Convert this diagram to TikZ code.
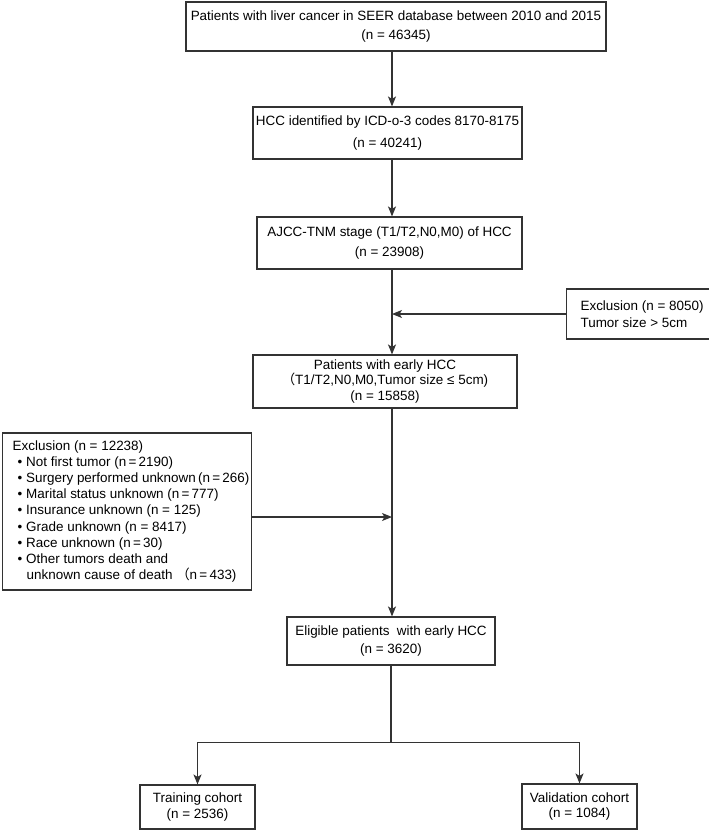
\documentclass[tikz,border=0pt]{standalone}
\usepackage{fontspec}
\setmainfont{Liberation Sans}
\newfontfamily\cjk{Noto Sans CJK SC}
\usetikzlibrary{arrows.meta}

\tikzset{
  box/.style={draw=black!80, line width=1.1bp, align=center, inner sep=2bp,
    font=\fontsize{13.5}{20}\selectfont},
  exbox/.style={box, align=left, anchor=west},
  arr/.style={draw=black!80, line width=1.1bp, -{Stealth[length=10bp,width=8bp,inset=2.5bp]}},
}

\begin{document}
\begin{tikzpicture}[x=1bp,y=-1bp]
        \useasboundingbox (0,0) rectangle (709,830);
        \coordinate (ax) at (392,0);
        % main steps
        \node[box, minimum width=420bp, minimum height=49bp] (seer) at (396,26.5)
          {Patients with liver cancer in SEER database between 2010 and 2015\\(n = 46345)};
        \node[box, minimum width=269bp, minimum height=52bp, font=\fontsize{13.5}{22}\selectfont] (icd) at (387.5,133)
          {HCC identified by ICD-o-3 codes 8170-8175\\(n = 40241)};
        \node[box, minimum width=265bp, minimum height=52bp] (tnm) at (389.5,243)
          {AJCC-TNM stage (T1/T2,N0,M0) of HCC\\(n = 23908)};
        \node[box, minimum width=264bp, minimum height=53bp, font=\fontsize{13.5}{16}\selectfont] (early) at (385,381.5)
          {Patients with early HCC\\{\cjk （}T1/T2,N0,M0,Tumor size ≤ 5cm)\\(n = 15858)};
        \node[box, minimum width=208bp, minimum height=48bp, font=\fontsize{13.5}{18}\selectfont] (elig) at (391,641)
          {Eligible patients\ \ with early HCC\\(n = 3620)};
        \node[box, minimum width=115bp, minimum height=44bp, font=\fontsize{13.5}{16}\selectfont] (train) at (197.5,807)
          {Training cohort\\(n = 2536)};
        \node[box, minimum width=115bp, minimum height=45bp, font=\fontsize{13.5}{16}\selectfont] (valid) at (579.5,806.5)
          {Validation cohort\\(n = 1084)};
        % exclusions
        \node[exbox, minimum width=142bp, minimum height=50bp, inner xsep=14bp, font=\fontsize{13.5}{17}\selectfont] (exsize) at (566,314)
          {Exclusion (n = 8050)\\Tumor size \textgreater{} 5cm};
        \node[exbox, minimum width=249bp, minimum height=157bp, inner xsep=1bp, font=\fontsize{13.5}{16.3}\selectfont] (exmiss) at (2,511.5)
          {\hspace*{8bp}Exclusion (n = 12238)\\
           \hspace*{13bp}• Not first tumor (n\,=\,2190)\\
           \hspace*{13bp}• Surgery performed unknown\,(n\,=\,266)\\
           \hspace*{13bp}• Marital status unknown (n\,=\,777)\\
           \hspace*{13bp}• Insurance unknown (n = 125)\\
           \hspace*{13bp}• Grade unknown (n = 8417)\\
           \hspace*{13bp}• Race unknown (n\,=\,30)\\
           \hspace*{13bp}• Other tumors death and\\
           \hspace*{22bp}unknown cause of death {\cjk （}n\,=\,433)};
        % connectors
        \draw[arr] (seer.south -| ax) -- (icd.north -| ax);
        \draw[arr] (icd.south -| ax) -- (tnm.north -| ax);
        \draw[arr] (tnm.south -| ax) -- (early.north -| ax);
        \draw[arr] (exsize.west) -- (exsize.west -| ax);
        \draw[arr] (early.south -| ax) -- (elig.north -| ax);
        \draw[arr] ([yshift=-5.5bp]exmiss.east) -- ([yshift=-5.5bp]exmiss.east -| ax);
        \draw[arr] (elig.south) -- ++(0,77) -| (train.north);
        \draw[arr] (elig.south) -- ++(0,77) -| (valid.north);
      \end{tikzpicture}
\end{document}
